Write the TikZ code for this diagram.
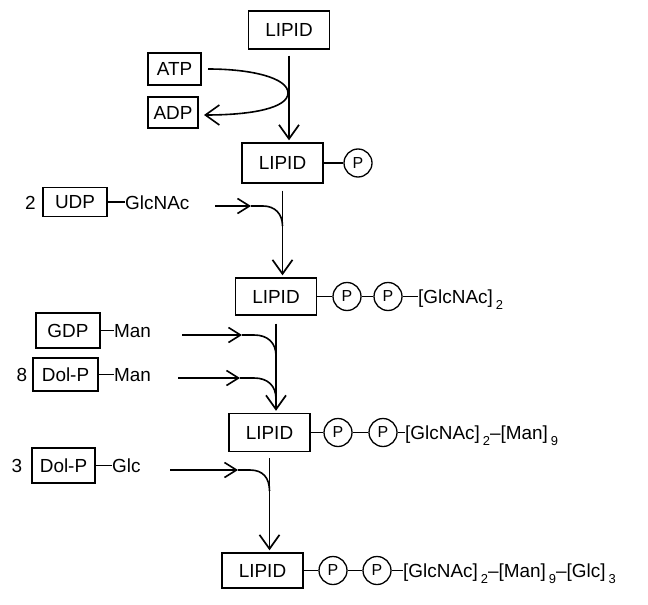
\documentclass[tikz,border=0pt]{standalone}
\usepackage{fontspec}
\setmainfont{Liberation Sans}
\usetikzlibrary{arrows.meta}
\newcommand{\lsub}[1]{\hspace{3bp}\raisebox{-6bp}{\fontsize{13}{13}\selectfont #1}}
\begin{document}
\begin{tikzpicture}[x=1bp,y=-1bp,
  lab/.style={font=\fontsize{19}{22}\selectfont, inner sep=0pt},
  box/.style={draw, line width=1.4bp, minimum width=81bp, minimum height=38bp, inner sep=0pt, font=\fontsize{19}{22}\selectfont},
  pc/.style={draw, circle, line width=1.3bp, minimum size=28bp, inner sep=0pt, font=\fontsize{16}{18}\selectfont},
  link/.style={line width=1.4bp},
  flow/.style={line width=1.7bp, -{Straight Barb[length=14bp,width=20bp]}},
  inflow/.style={line width=1.6bp, -{Straight Barb[length=12bp,width=15bp]}},
  bendline/.style={line width=1.6bp}
]
\useasboundingbox (0,0) rectangle (648,605);

% main LIPID column
\node[box] (L1) at (289,30) {LIPID};
\node[box, minimum height=40bp] (L2) at (282.5,163) {LIPID};
\node[box, minimum height=37bp] (L3) at (276,296.5) {LIPID};
\node[box] (L4) at (269.5,432.5) {LIPID};
\node[box, minimum height=35bp] (L5) at (262.5,570.5) {LIPID};

% phosphates
\node[pc] (p2) at (358,163) {P};
\node[pc] (p3a) at (347,296.5) {P};
\node[pc] (p3b) at (388,296.5) {P};
\node[pc] (p4a) at (338,432.5) {P};
\node[pc] (p4b) at (383,432.5) {P};
\node[pc] (p5a) at (333,570.5) {P};
\node[pc] (p5b) at (377,570.5) {P};

\draw[link] (L2.east) -- (p2.west);
\draw[link] (L3.east) -- (p3a.west);
\draw[link] (p3a.east) -- (p3b.west);
\draw[link] (L4.east) -- (p4a.west);
\draw[link] (p4a.east) -- (p4b.west);
\draw[link] (L5.east) -- (p5a.west);
\draw[link] (p5a.east) -- (p5b.west);

% sugar chains
\node[lab, anchor=base west] (t3) at (418,303.5) {[GlcNAc]\lsub{2}};
\node[lab, anchor=base west] (t4) at (405,439.5) {[GlcNAc]\lsub{2}\textendash[Man]\lsub{9}};
\node[lab, anchor=base west] (t5) at (403,577.5) {[GlcNAc]\lsub{2}\textendash[Man]\lsub{9}\textendash[Glc]\lsub{3}};
\draw[link] (p3b.east) -- (p3b.east -| t3.west);
\draw[link] (p4b.east) -- (p4b.east -| t4.west);
\draw[link] (p5b.east) -- (p5b.east -| t5.west);

% ATP / ADP
\node[box, minimum width=53bp, minimum height=32bp] (atp) at (174.5,69) {ATP};
\node[box, minimum width=50bp, minimum height=31bp] (adp) at (173,112.5) {ADP};

% donors
\node[box, minimum width=64bp, minimum height=29bp] (udp) at (75,202) {UDP};
\node[lab, anchor=base] (n2) at (30.5,209) {2};
\node[lab, anchor=base west] (glcnac) at (125,209) {GlcNAc};
\draw[link] (udp.east) -- (udp.east -| glcnac.west);

\node[box, minimum width=64bp, minimum height=35bp] (gdp) at (68,330.5) {GDP};
\node[lab, anchor=base west] (man1) at (114,337.5) {Man};
\draw[link] (gdp.east) -- (gdp.east -| man1.west);

\node[box, minimum width=65bp, minimum height=33bp] (dol1) at (65.5,374.5) {Dol-P};
\node[lab, anchor=base] (n8) at (22,381.5) {8};
\node[lab, anchor=base west] (man2) at (114,381.5) {Man};
\draw[link] (dol1.east) -- (dol1.east -| man2.west);

\node[box, minimum width=63bp, minimum height=35bp] (dol2) at (63.5,465.5) {Dol-P};
\node[lab, anchor=base] (n3) at (17,472.5) {3};
\node[lab, anchor=base west] (glc) at (112,472.5) {Glc};
\draw[link] (dol2.east) -- (dol2.east -| glc.west);

% main flow arrows
\draw[flow] ([yshift=-6bp]L1.south) -- ([yshift=2bp]L1.south |- L2.north);
\draw[flow] ([yshift=-7bp]L2.south) -- ([yshift=2bp]L2.south |- L3.north);
\draw[flow] ([yshift=-8bp]L3.south) -- ([yshift=2bp]L3.south |- L4.north);
\draw[flow] ([yshift=-6bp]L4.south) -- ([yshift=2bp]L4.south |- L5.north);

% ATP -> ADP loop
\coordinate (a0) at (208,69);
\coordinate (a1) at (288,93);
\coordinate (a2) at (204,115);
\draw[flow, line width=1.6bp] (a0) .. controls (252,69) and (288,78) .. (a1)
  .. controls (288,108) and (252,115) .. (a2);

% incoming UDP-GlcNAc
\coordinate (s2) at (215,206);
\coordinate (h2) at (251,206);
\coordinate (c2) at (263,206);
\coordinate (j2) at (282.5,226);
\draw[inflow] (s2) -- (h2);
\draw[bendline] (h2) -- (c2) .. controls (275,206) and (282.5,214) .. (j2);

% incoming GDP-Man
\coordinate (s3) at (182,335);
\coordinate (h3) at (242,335);
\coordinate (c3) at (254,335);
\coordinate (j3) at (276,356);
\draw[inflow] (s3) -- (h3);
\draw[bendline] (h3) -- (c3) .. controls (268,335) and (276,343) .. (j3);

% incoming Dol-P-Man
\coordinate (s4) at (178,378);
\coordinate (h4) at (240,378);
\coordinate (c4) at (254,378);
\coordinate (j4) at (276,399);
\draw[inflow] (s4) -- (h4);
\draw[bendline] (h4) -- (c4) .. controls (268,378) and (276,386) .. (j4);

% incoming Dol-P-Glc
\coordinate (s5) at (170,470);
\coordinate (h5) at (238,470);
\coordinate (c5) at (250,470);
\coordinate (j5) at (269.5,491);
\draw[inflow] (s5) -- (h5);
\draw[bendline] (h5) -- (c5) .. controls (263,470) and (269.5,478) .. (j5);
\end{tikzpicture}
\end{document}
